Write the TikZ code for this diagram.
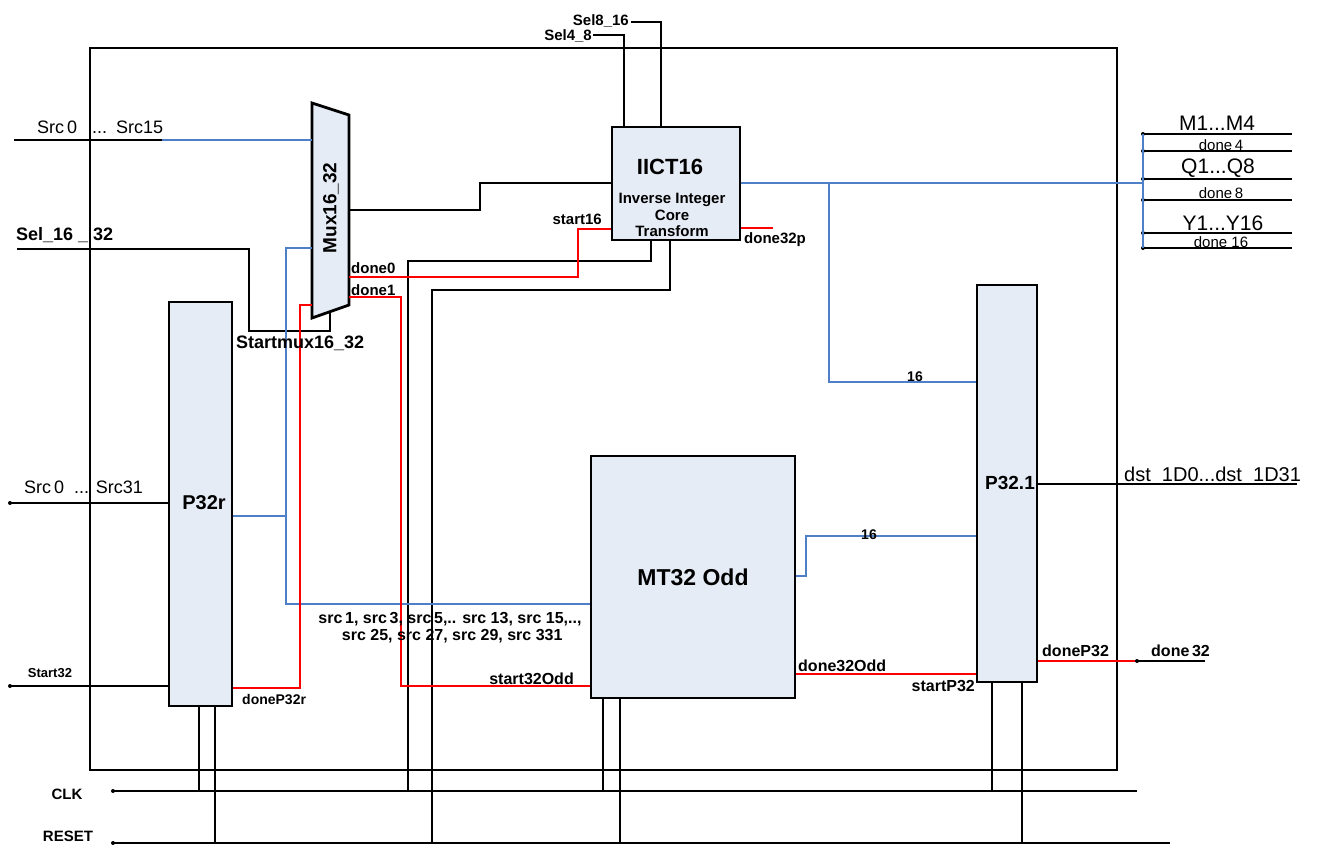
\documentclass[tikz,border=0pt]{standalone}
\usepackage{fontspec}
\setmainfont{Liberation Sans}
\usetikzlibrary{positioning}
\definecolor{boxfill}{HTML}{E6ECF6}
\definecolor{busblue}{HTML}{4F7FC6}
\tikzset{
  blk/.style={draw, line width=2.8pt, fill=boxfill, inner sep=0pt},
  wire/.style={line width=2.6pt},
  bus/.style={line width=2.4pt, busblue},
  sig/.style={line width=2.8pt, red},
  lbl/.style={font=\bfseries\fontsize{15}{17}\selectfont, inner sep=0pt},
  txt/.style={font=\fontsize{18}{20}\selectfont, inner sep=0pt},
  pin/.style={circle, fill, inner sep=0pt, minimum size=4pt},
}
\begin{document}
\begin{tikzpicture}[x=1pt,y=-1pt]
\useasboundingbox (0,0) rectangle (1320,844);

% outer frame
\draw[wire] (90,48) rectangle (1117,770);

% blocks
\node[blk, minimum width=128, minimum height=113] (iict) at (676,183.5) {};
\node[blk, minimum width=204, minimum height=242] (mt) at (693,577) {};
\node[blk, minimum width=63, minimum height=404] (pr) at (200.5,504) {};
\node[blk, minimum width=60, minimum height=397] (pone) at (1007,483.5) {};
\draw[blk] (312,103) coordinate (muxtl) -- (349,115) coordinate (muxtr)
  -- (349,305) coordinate (muxbr) -- (312,318) coordinate (muxbl) -- cycle;

\node[font=\bfseries\fontsize{22}{24}\selectfont] (iictname) at (670,167) {IICT16};
\node[font=\bfseries\fontsize{15}{16.5}\selectfont, align=center, inner sep=0pt] (iictdesc) at (672,215) {Inverse Integer\\Core\\Transform};
\node[font=\bfseries\fontsize{23}{25}\selectfont] (mtname) at (693,577) {MT32 Odd};
\node[font=\bfseries\fontsize{20}{22}\selectfont] (prname) at (204,503) {P32r};
\node[font=\bfseries\fontsize{19}{21}\selectfont] (ponename) at (1010,483) {P32.1};
\node[font=\bfseries\fontsize{19}{21}\selectfont, rotate=90] (muxname) at (331,208) {Mux16\_32};

% pins and free ends
\coordinate (srcA) at (14,140);
\coordinate (srcAj) at (162,140);
\coordinate (muxin) at (312,140);
\coordinate (sel) at (17,249);
\coordinate (muxs) at (330,312);
\coordinate (muxb) at (312,248);
\coordinate (muxd) at (312,305);
\coordinate (muxo) at (349,210);
\coordinate (muxd0) at (349,277);
\coordinate (muxd1) at (349,297);
\coordinate (sel48) at (593,35);
\coordinate (sel816) at (631,22);
\coordinate (srcB) at (10,503);
\coordinate (start) at (10,686);
\coordinate (clkL) at (113,791);
\coordinate (clkR) at (1137,791);
\coordinate (rstL) at (113,843);
\coordinate (rstR) at (1170,843);
\coordinate (busR) at (1143,183);
\coordinate (dst) at (1297,484);
\coordinate (d32) at (1137,661);
\coordinate (d32e) at (1205,661);
\coordinate (d32p) at (773,228);

% black wires
\draw[wire] (srcA) -- (srcAj);
\draw[wire] (sel) -- (249,249) -- (249,331) -- (330,331) -- (muxs);
\draw[wire] (muxo) -- (480,210) -- (480,183) -- (iict.west |- 0,183);
\draw[wire] (sel48) -- (624,35) -- (iict.north -| 624,0);
\draw[wire] (sel816) -- (661,22) -- (iict.north -| 661,0);
\draw[wire] (iict.south -| 651,0) -- (651,261) -- (408,261) -- (408,791);
\draw[wire] (iict.south -| 670,0) -- (670,290) -- (432,290) -- (432,843);
\draw[wire] (srcB) -- (pr.west |- srcB);
\draw[wire] (start) -- (pr.west |- start);
\draw[wire] (pr.south -| 199,0) -- (199,791);
\draw[wire] (pr.south -| 215,0) -- (215,843);
\draw[wire] (mt.south -| 603,0) -- (603,791);
\draw[wire] (mt.south -| 620,0) -- (620,843);
\draw[wire] (pone.south -| 992,0) -- (992,791);
\draw[wire] (pone.south -| 1022,0) -- (1022,843);
\draw[wire] (clkL) -- (clkR);
\draw[wire] (rstL) -- (rstR);
\draw[wire] (pone.east |- dst) -- (dst);
\draw[wire] (d32) -- (d32e);
\foreach \y in {134,151,179,200,233,248}
  \draw[wire] (1143,\y) -- (1292,\y) node[pin, pos=0] {};

% blue buses
\draw[bus] (srcAj) -- (muxin);
\draw[bus] (muxb) -- (286,248) -- (286,604) -- (mt.west |- 0,604);
\draw[bus] (pr.east |- 0,516) -- (286,516);
\draw[bus] (iict.east |- busR) -- (busR);
\draw[bus] (1143,134) -- (1143,248);
\draw[bus] (829,183) -- (829,382) -- (pone.west |- 0,382);
\draw[bus] (mt.east |- 0,576) -- (806,576) -- (806,536) -- (pone.west |- 0,536);

% red handshakes
\draw[sig] (pr.east |- 0,688) -- (300,688) -- (300,305) -- (muxd);
\draw[sig] (iict.west |- 0,229) -- (578,229) -- (578,277) -- (muxd0);
\draw[sig] (muxd1) -- (401,297) -- (401,686) -- (mt.west |- 0,686);
\draw[sig] (iict.east |- d32p) -- (d32p);
\draw[sig] (mt.east |- 0,674) -- (pone.west |- 0,674);
\draw[sig] (pone.east |- d32) -- (d32);

% end dots
\node[pin] (pinB) at (srcB) {};
\node[pin] (pinS) at (start) {};
\node[pin] (pinC) at (clkL) {};
\node[pin] (pinR) at (rstL) {};
\node[pin] (pinD) at (d32) {};

% labels
\node[txt, anchor=west] (lsrcA) at (37,127) {Src\,0\hspace{15pt}...\hspace{9pt}Src15};
\node[lbl, font=\bfseries\fontsize{18}{20}\selectfont, anchor=west] (lsel) at (16,235) {Sel\_16 \_ 32};
\node[lbl, font=\bfseries\fontsize{18}{20}\selectfont, anchor=west] (lstm) at (236,343) {Startmux16\_32};
\node[lbl, anchor=east] (lsel816) at (629,21) {Sel8\_16};
\node[lbl, anchor=east] (lsel48) at (592,36) {Sel4\_8};
\node[lbl, anchor=west] (ld0) at (351,268) {done0};
\node[lbl, anchor=west] (ld1) at (351,290) {done1};
\node[lbl, anchor=east] (lst16) at (602,219) {start16};
\node[lbl, anchor=west] (ld32p) at (744,240) {done32p};
\node[lbl, font=\bfseries\fontsize{14}{16}\selectfont] (l16a) at (915,377) {16};
\node[lbl, font=\bfseries\fontsize{14}{16}\selectfont] (l16b) at (869,535) {16};
\node[txt, anchor=west] (lsrcB) at (24,487) {Src\,0 \ ... Src31};
\node[lbl, font=\bfseries\fontsize{13}{15}\selectfont] (lst32) at (50,673) {Start32};
\node[lbl, font=\bfseries\fontsize{14}{16}\selectfont, anchor=west] (ldpr) at (242,699) {doneP32r};
\node[lbl] (lclk) at (67,794) {CLK};
\node[lbl] (lrst) at (68,836) {RESET};
\node[lbl, font=\bfseries\fontsize{16}{17}\selectfont, align=center] (lsrcodd) at (450,628) {src\,1, src\,3, src\,5,.. src 13, src 15,..,\\ \ src 25, src 27, src 29, src 331};
\node[lbl, font=\bfseries\fontsize{16}{18}\selectfont, anchor=east] (lst32o) at (574,679) {start32Odd};
\node[lbl, font=\bfseries\fontsize{16}{18}\selectfont, anchor=west] (ld32o) at (798,666) {done32Odd};
\node[lbl, font=\bfseries\fontsize{16}{18}\selectfont, anchor=east] (lstp) at (975,686) {startP32};
\node[lbl, font=\bfseries\fontsize{16}{18}\selectfont, anchor=west] (ldp) at (1042,651) {doneP32};
\node[lbl, font=\bfseries\fontsize{16}{18}\selectfont, anchor=west] (ld32) at (1151,651) {done\,32};
\node[txt, font=\fontsize{20}{22}\selectfont, anchor=west] (ldst) at (1124,474) {dst\ \ 1D0...dst\ \ 1D31};
\node[txt, font=\fontsize{21}{23}\selectfont] (lm) at (1217,123) {M1...M4};
\node[txt, font=\fontsize{15}{17}\selectfont] (ld4) at (1221,145) {done\,4};
\node[txt, font=\fontsize{21}{23}\selectfont] (lq) at (1218,168) {Q1...Q8};
\node[txt, font=\fontsize{15}{17}\selectfont] (ld8) at (1221,193) {done\,8};
\node[txt, font=\fontsize{21}{23}\selectfont] (ly) at (1223,223) {Y1...Y16};
\node[txt, font=\fontsize{15}{17}\selectfont] (ld16) at (1221,242) {done 16};
\end{tikzpicture}
\end{document}
